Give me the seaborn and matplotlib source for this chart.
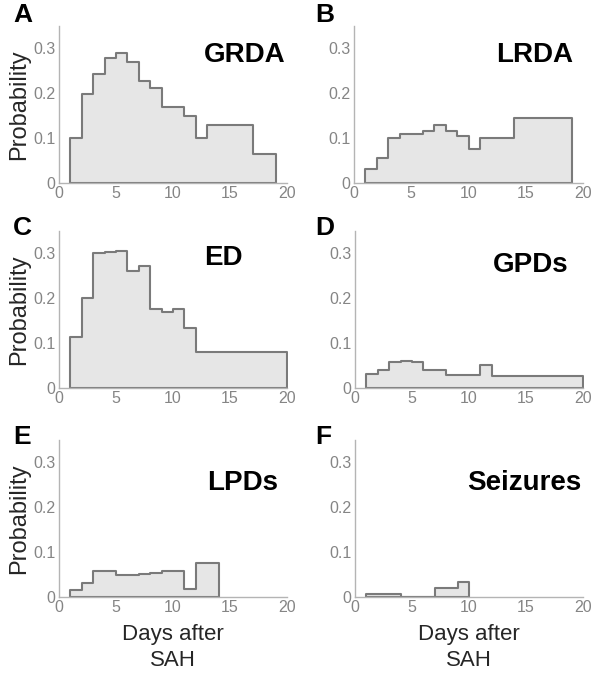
import numpy as np
import pandas as pd
import matplotlib.pyplot as plt
import seaborn as sns

# Datos: probabilidad por dia despues de la HSA (bordes de clase + valores)
panel_letters = ["A", "B", "C", "D", "E", "F"]
panel_titles = ["GRDA", "LRDA", "ED", "GPDs", "LPDs", "Seizures"]

grda_edges = [1, 2, 3, 4, 5, 6, 7, 8, 9, 11, 12, 13, 17, 19]
grda_prob = [0.100, 0.198, 0.242, 0.278, 0.289, 0.269, 0.226, 0.211, 0.170, 0.150, 0.100, 0.129, 0.064]

lrda_edges = [1, 2, 3, 4, 6, 7, 8, 9, 10, 11, 14, 19]
lrda_prob = [0.031, 0.056, 0.100, 0.108, 0.116, 0.129, 0.116, 0.104, 0.075, 0.099, 0.144]

ed_edges = [1, 2, 3, 4, 5, 6, 7, 8, 9, 10, 11, 12, 20]
ed_prob = [0.114, 0.200, 0.300, 0.302, 0.305, 0.261, 0.272, 0.176, 0.168, 0.176, 0.133, 0.080]

gpds_edges = [1, 2, 3, 4, 5, 6, 8, 11, 12, 20]
gpds_prob = [0.032, 0.040, 0.058, 0.059, 0.058, 0.040, 0.028, 0.052, 0.027]

lpds_edges = [1, 2, 3, 5, 7, 8, 9, 11, 12, 14]
lpds_prob = [0.015, 0.031, 0.058, 0.049, 0.051, 0.054, 0.057, 0.017, 0.075]

seiz_edges = [1, 4, 7, 9, 10]
seiz_prob = [0.007, 0.0, 0.020, 0.034]

all_edges = [grda_edges, lrda_edges, ed_edges, gpds_edges, lpds_edges, seiz_edges]
all_prob = [grda_prob, lrda_prob, ed_prob, gpds_prob, lpds_prob, seiz_prob]

# posicion de los titulos (x izquierda, linea base) en coordenadas de datos
title_pos = [(12.7, 0.269), (12.4, 0.269), (12.7, 0.273), (12.1, 0.258), (13.0, 0.238), (9.8, 0.238)]

sns.set_style("white")
plt.rcParams['font.family'] = ['Liberation Sans', 'DejaVu Sans']

W, H = 601, 686
fig = plt.figure(figsize=(W / 100, H / 100), dpi=100)

# (x0, x1, y_base) en pixeles
boxes = [(59, 287, 183), (354, 583, 183),
         (59, 287, 388), (355, 583, 388),
         (59, 287, 597), (355, 583, 597)]
letter_pos = [(13, 22), (315, 22), (13, 235), (315, 235), (13, 444), (315, 444)]
px_per_unit = 450  # pixeles por 1.0 de probabilidad
top = 0.35

for i in range(6):
    x0, x1, yb = boxes[i]
    h = top * px_per_unit
    ax = fig.add_axes([x0 / W, 1 - yb / H, (x1 - x0) / W, h / H])

    edges = [float(e) for e in all_edges[i]]
    mids = [(a + b) / 2 for a, b in zip(edges[:-1], edges[1:])]
    df = pd.DataFrame({"day": mids, "prob": all_prob[i]})
    sns.histplot(data=df, x="day", weights="prob", bins=edges, element="step",
                 fill=True, color="#e6e6e6", alpha=1, edgecolor="#7a7a7a",
                 linewidth=1.5, ax=ax)

    ax.set_xlim(0, 20)
    ax.set_ylim(0, top)
    ax.set_xticks([0, 5, 10, 15, 20])
    ax.set_yticks([0, 0.1, 0.2, 0.3])
    ax.set_yticklabels(["0", "0.1", "0.2", "0.3"])
    for s in ["top", "right"]:
        ax.spines[s].set_visible(False)
    for s in ["left", "bottom"]:
        ax.spines[s].set_color("#b4b4b4")
        ax.spines[s].set_linewidth(1.0)
    ax.tick_params(direction="in", length=3, width=0.8, color="#b4b4b4",
                   labelsize=11.5, labelcolor="#858585", pad=2.5)
    ax.set_ylabel("")
    ax.set_xlabel("")
    ax.set_facecolor("none")

    if i % 2 == 0:
        ax.set_ylabel("Probability", fontsize=17, color="#262626")
        ax.yaxis.set_label_coords((30 - x0) / (x1 - x0), 0.5)
    if i >= 4:
        ax.set_xlabel("Days after\nSAH", fontsize=16, color="#262626", linespacing=1.3)
        ax.xaxis.set_label_coords(0.5, -27 / h)

    tx, ty = title_pos[i]
    ax.text(tx, ty, panel_titles[i], fontsize=20, fontweight="bold",
            ha="left", va="baseline", color="black")

    lx, ly = letter_pos[i]
    fig.text(lx / W, 1 - ly / H, panel_letters[i], fontsize=19, fontweight="bold",
             ha="left", va="baseline", color="black")

plt.savefig("out.png", dpi=100)
